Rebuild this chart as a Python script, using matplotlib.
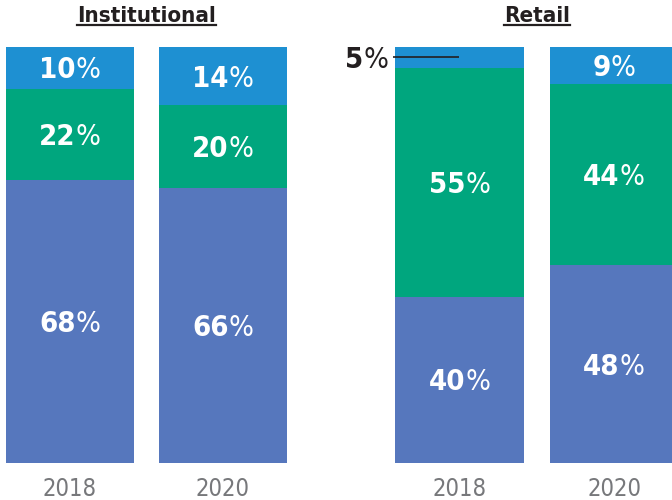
import matplotlib
matplotlib.use("Agg")
import matplotlib.pyplot as plt
from matplotlib import font_manager
from matplotlib.transforms import ScaledTranslation
from matplotlib.lines import Line2D

# ---- data ----
groups = ["Institutional", "Retail"]
years = ["2018", "2020", "2018", "2020"]
group_of_bar = [0, 0, 1, 1]
bottom_vals = [68, 66, 40, 48]   # purple
middle_vals = [22, 20, 55, 44]   # green
top_vals = [10, 14, 5, 9]        # blue

# ---- style ----
C_PURPLE = "#5677bd"
C_GREEN = "#00a67e"
C_BLUE = "#1e90d2"
C_DARK = "#231f20"
C_GRAY = "#77787b"

names = {f.name for f in font_manager.fontManager.ttflist}
cond = [f for f in font_manager.fontManager.ttflist
        if f.name == "DejaVu Sans" and ("ondensed" in str(f.stretch) or "Condensed" in f.fname)]
if cond:
    FAM, STRETCH = "DejaVu Sans", "condensed"
elif "Liberation Sans Narrow" in names:
    FAM, STRETCH = "Liberation Sans Narrow", "normal"
else:
    FAM, STRETCH = "DejaVu Sans", "normal"

positions = [0, 1, 2.546, 3.556]
width = 0.837

# stacked shares normalised to 100 per bar
totals = [a + b + c for a, b, c in zip(bottom_vals, middle_vals, top_vals)]
bot_n = [v * 100.0 / t for v, t in zip(bottom_vals, totals)]
mid_n = [v * 100.0 / t for v, t in zip(middle_vals, totals)]
top_n = [v * 100.0 / t for v, t in zip(top_vals, totals)]
mid_base = bot_n
top_base = [a + b for a, b in zip(bot_n, mid_n)]

fig = plt.figure(figsize=(6.72, 5.0), dpi=100)
ax = fig.add_axes([0, 0, 1, 1])
ax.set_xlim(-0.4575, 3.935)
ax.set_ylim(-8.9, 111.3)
ax.axis("off")

ax.bar(positions, bot_n, width, color=C_PURPLE)
ax.bar(positions, mid_n, width, bottom=mid_base, color=C_GREEN)
ax.bar(positions, top_n, width, bottom=top_base, color=C_BLUE)

renderer = fig.canvas.get_renderer()
SIZE = 21


def pct_label(x, y, num, color, size=SIZE, align="center"):
    t1 = ax.text(x, y, str(num), fontsize=size, fontweight="bold", family=FAM,
                 fontstretch=STRETCH, color=color, ha="left", va="baseline")
    t2 = ax.text(x, y, "%", fontsize=size, fontweight="light", family=FAM,
                 fontstretch=STRETCH, color=color, ha="left", va="baseline")
    w1 = t1.get_window_extent(renderer).width
    w2 = t2.get_window_extent(renderer).width
    total = w1 + w2
    start = -total / 2 if align == "center" else -total
    dy = -0.729 * size / 2 / 72.0
    t1.set_transform(ax.transData + ScaledTranslation(start / fig.dpi, dy, fig.dpi_scale_trans))
    t2.set_transform(ax.transData + ScaledTranslation((start + w1) / fig.dpi, dy, fig.dpi_scale_trans))


for i, x in enumerate(positions):
    pct_label(x, bot_n[i] / 2, bottom_vals[i], "white")
    pct_label(x, mid_base[i] + mid_n[i] / 2, middle_vals[i], "white")
    ytop = top_base[i] + top_n[i] / 2
    if top_vals[i] >= 8:
        pct_label(x, ytop, top_vals[i], "white")
    else:
        # callout outside bar
        x0 = x - 0.4375
        ax.plot([x0, x], [ytop, ytop], color=C_DARK, lw=1.2, solid_capstyle="butt")
        pct_label(x0 - 0.03, ytop, top_vals[i], C_DARK, align="right")
    ax.text(x, -6.2, years[i], fontsize=17, family=FAM, fontstretch=STRETCH,
            color=C_GRAY, ha="center", va="center")

# group titles with underline
for g, name in enumerate(groups):
    xs = [positions[i] for i in range(len(positions)) if group_of_bar[i] == g]
    xc = sum(xs) / len(xs)
    t = ax.text(xc, 106.0, name, fontsize=16, fontweight="bold", family=FAM,
                fontstretch=STRETCH, color=C_DARK, ha="center", va="baseline")
    bb = t.get_window_extent(renderer)
    _, ybase = ax.transData.transform((xc, 106.0))
    fig.add_artist(Line2D([bb.x0, bb.x1], [ybase - 2.5, ybase - 2.5],
                          transform=None, color=C_DARK, lw=1.6))

fig.savefig("out.png", dpi=100)
